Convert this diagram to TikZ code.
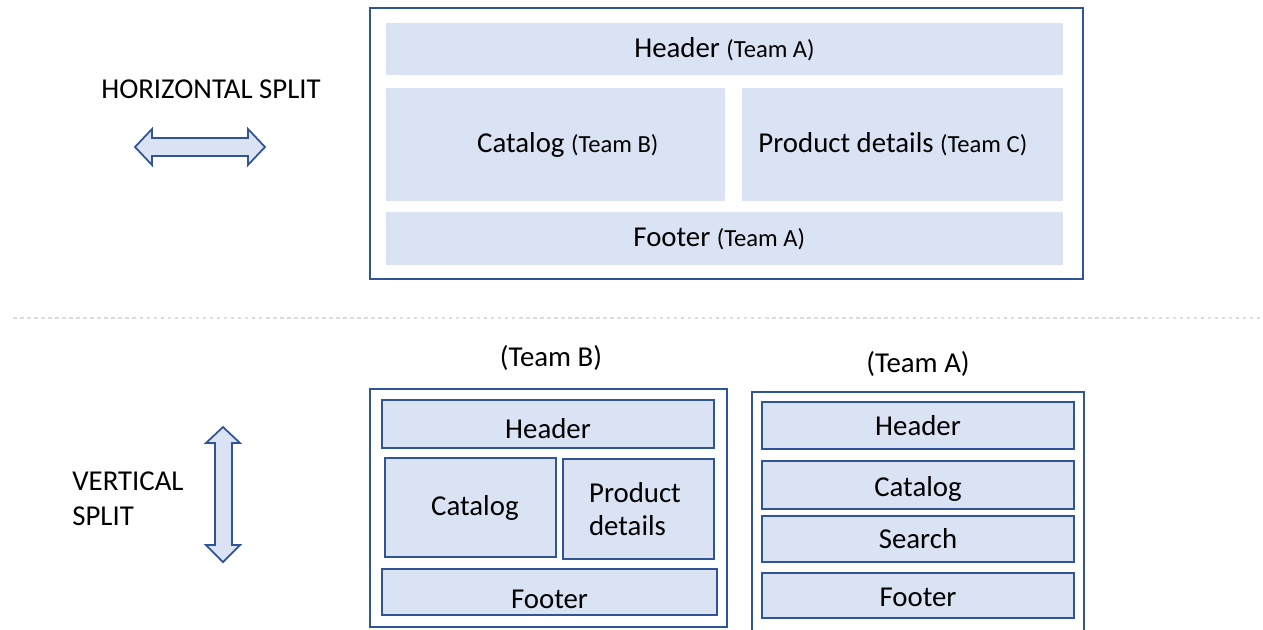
\documentclass[tikz,border=0pt]{standalone}
\usepackage{fontspec}
\setmainfont{Carlito}
\usepackage{tikz}
\usetikzlibrary{positioning}
\definecolor{paneblue}{HTML}{DAE3F3}
\definecolor{edgeblue}{HTML}{2F5597}
\definecolor{dotgrey}{HTML}{D6DCE5}
\newcommand{\panefont}{\fontsize{16.4}{19}\selectfont}
\newcommand{\team}[1]{{\fontsize{14}{16}\selectfont #1}}

\begin{document}
\begin{tikzpicture}[x=0.02cm,y=-0.02cm,
    pane/.style={fill=paneblue, inner sep=0pt, font=\panefont},
    panebox/.style={pane, draw=edgeblue, line width=0.9pt},
    frame/.style={draw=edgeblue, line width=0.9pt},
    splitarrow/.style={draw=edgeblue, fill=paneblue, line width=1pt, line join=miter},
    caption/.style={font=\panefont, inner sep=0pt}]
    \useasboundingbox (0,0) rectangle (1263,629);

    \draw[frame] (370,8) rectangle (1083,279);
    \node[pane, minimum width=13.54cm, minimum height=1.04cm] (hheader) at (724.5,49) {Header \team{(Team A)}};
    \node[pane, minimum width=6.78cm, minimum height=2.26cm,
        label={[font=\panefont, xshift=7pt]center:Catalog \team{(Team B)}}] (hcatalog) at (555.5,144.5) {};
    \node[pane, minimum width=6.42cm, minimum height=2.26cm,
        label={[font=\panefont, xshift=-5.5pt]center:Product details \team{(Team C)}}] (hproduct) at (902.5,144.5) {};
    \node[pane, minimum width=13.54cm, minimum height=1.06cm,
        label={[font=\panefont, xshift=-3pt]center:Footer \team{(Team A)}}] (hfooter) at (724.5,238.5) {};

    \node[caption] (hsplit) at (211,89) {HORIZONTAL SPLIT};
    \draw[splitarrow] (135,147) -- ++(17,-18) -- ++(0,9) -- ++(96,0) -- ++(0,-9) -- (265,147)
        -- ++(-17,18) -- ++(0,-9) -- ++(-96,0) -- ++(0,9) -- cycle;

    \draw[dotgrey, line width=1pt, dash pattern=on 2pt off 2pt] (13,318) -- (1263,318);

    \node[caption] (teamb) at (551,358) {(Team B)};
    \draw[frame] (370,389) rectangle (727,627);
    \node[panebox, minimum width=6.64cm, minimum height=0.96cm,
        label={[font=\panefont, yshift=-2.5pt]center:Header}] (vheader) at (548,424) {};
    \node[panebox, minimum width=3.42cm, minimum height=1.98cm,
        label={[font=\panefont, xshift=2.5pt]center:Catalog}] (vcatalog) at (470.5,507.5) {};
    \node[panebox, minimum width=3.02cm, minimum height=2.0cm,
        label={[font=\panefont, align=left, xshift=-2pt]center:Product\\details}] (vproduct) at (638.5,509) {};
    \node[panebox, minimum width=6.70cm, minimum height=0.92cm,
        label={[font=\panefont, yshift=-4pt]center:Footer}] (vfooter) at (549.5,592) {};

    \node[caption] (teama) at (918,364) {(Team A)};
    \draw[frame] (752,640) -- (752,392) -- (1084,392) -- (1084,640);
    \node[panebox, minimum width=6.24cm, minimum height=0.94cm] (aheader) at (918,425.5) {Header};
    \node[panebox, minimum width=6.24cm, minimum height=0.96cm,
        label={[font=\panefont, yshift=-2pt]center:Catalog}] (acatalog) at (918,485) {};
    \node[panebox, minimum width=6.24cm, minimum height=0.92cm] (asearch) at (918,539) {Search};
    \node[panebox, minimum width=6.24cm, minimum height=0.90cm,
        label={[font=\panefont, yshift=-1pt]center:Footer}] (afooter) at (918,595.5) {};

    \node[caption, align=left, anchor=west] (vsplit) at (72,499) {VERTICAL\\[1pt]SPLIT};
    \draw[splitarrow] (223,427) -- ++(17,16) -- ++(-8,0) -- ++(0,102) -- ++(8,0) -- (223,562)
        -- ++(-17,-17) -- ++(9,0) -- ++(0,-102) -- ++(-9,0) -- cycle;
\end{tikzpicture}
\end{document}
